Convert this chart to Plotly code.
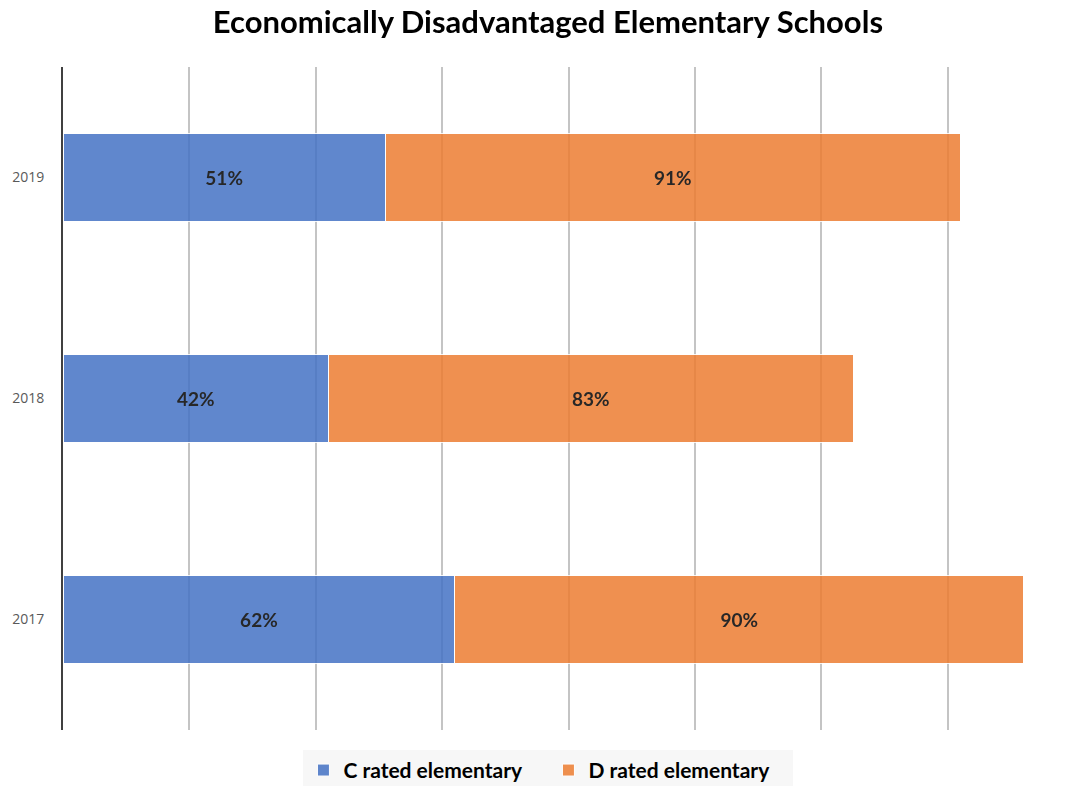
import plotly.graph_objects as go

years = ["2017", "2018", "2019"]
c_rated = [62, 42, 51]
d_rated = [90, 83, 91]
c_labels = ["62%", "42%", "51%"]
d_labels = ["90%", "83%", "91%"]

blue = "#4472C4"
orange = "#ED7D31"

label_font = dict(family="Lato", size=19, color="black", weight="bold")

fig = go.Figure()
fig.add_trace(go.Bar(
    y=years, x=c_rated, orientation="h", name="C rated elementary",
    marker=dict(color=blue, line=dict(width=1, color="white")), opacity=0.85,
    text=c_labels, textposition="inside", insidetextanchor="middle",
    textfont=label_font, hoverinfo="skip",
))
fig.add_trace(go.Bar(
    y=years, x=d_rated, orientation="h", name="D rated elementary",
    marker=dict(color=orange, line=dict(width=1, color="white")), opacity=0.85,
    text=d_labels, textposition="inside", insidetextanchor="middle",
    textfont=label_font, hoverinfo="skip",
))

fig.update_layout(
    barmode="stack",
    bargap=0.6,
    width=1066, height=786,
    paper_bgcolor="white", plot_bgcolor="white",
    margin=dict(l=63, r=0, t=67, b=56, autoexpand=False),
    title=dict(text="<b>Economically Disadvantaged Elementary Schools</b>",
               x=0.514, xanchor="center", y=0.972, yanchor="middle",
               font=dict(family="Lato", size=31, color="black")),
    xaxis=dict(range=[0, 158.7], dtick=20, showticklabels=False, ticks="",
               showgrid=True, gridcolor="#C4C4C4", gridwidth=2,
               zeroline=False, showline=False, layer="above traces"),
    yaxis=dict(showline=True, linecolor="#404040", linewidth=2, automargin=False,
               tickfont=dict(family="Open Sans", size=14, color="#595959"),
               ticks="", showgrid=False, ticklabelstandoff=14),
    legend=dict(orientation="h", x=0.484, xanchor="center", y=-0.03, yanchor="top",
                bgcolor="#F7F7F7", font=dict(family="Lato", size=21, color="black", weight="bold"),
                traceorder="normal", itemwidth=30, entrywidth=200),
    showlegend=True,
)

fig.write_html("out.html", post_script="document.body.style.margin='0';",
               config={"displayModeBar": False})
